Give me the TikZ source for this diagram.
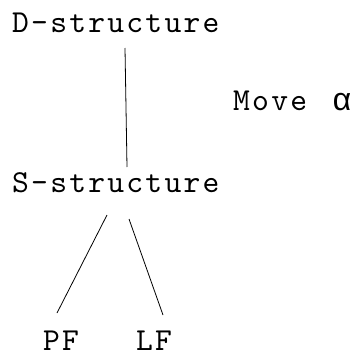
\documentclass[tikz,border=0pt]{standalone}
\usepackage{fontspec}
\newfontfamily\alphafont{Liberation Mono}
\newfontfamily\cour[LetterSpace=7]{lmmono10-regular.otf}
\begin{document}
\begin{tikzpicture}[x=1pt,y=-1pt,
  lbl/.style={anchor=base west,inner sep=0pt,font=\cour\fontsize{32}{36}\selectfont},
  edge/.style={draw=black,line width=0.8pt}]
\useasboundingbox (0,0) rectangle (349,356);
\node[lbl] (d) at (12,32) {D-structure};
\node[lbl] (s) at (12,192) {S-structure};
\node[lbl] (m) at (233,110) {Move\hspace{25pt}{\alphafont\fontsize{32}{34}\selectfont α}};
\node[lbl,text depth=0pt] (pf) at (43,350) {PF};
\node[lbl,text depth=0pt] (lf) at (136,350) {LF};
\coordinate (d1) at (125,48);
\coordinate (s1) at (127,167);
\coordinate (s2) at (107,215);
\coordinate (s3) at (129,219);
\coordinate (pf1) at (57,313);
\coordinate (lf1) at (163,315);
\draw[edge] (d1) -- (s1);
\draw[edge] (s2) -- (pf1);
\draw[edge] (s3) -- (lf1);
\end{tikzpicture}
\end{document}
